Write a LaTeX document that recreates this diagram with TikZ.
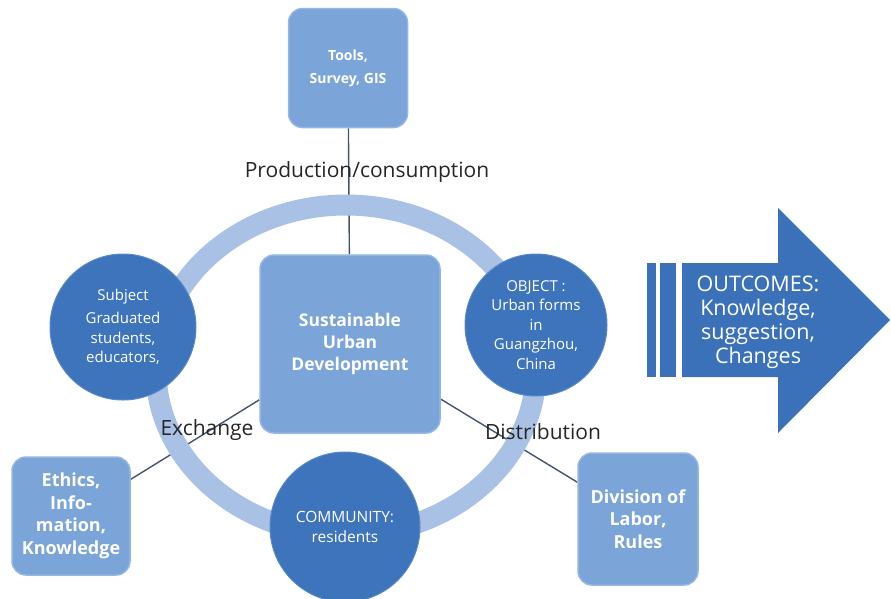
\documentclass[tikz,border=0pt]{standalone}
\usepackage{fontspec}
\setmainfont{Open Sans}
\usetikzlibrary{backgrounds}

\definecolor{boxblue}{HTML}{7BA4D9}
\definecolor{discblue}{HTML}{3D74BC}
\definecolor{ringblue}{HTML}{A9C1E4}
\definecolor{arrowblue}{HTML}{3B71B9}
\definecolor{linkgray}{HTML}{46536E}

\tikzset{
	square/.style={rounded corners=14pt, fill=boxblue, draw=boxblue!80!white,
		line width=1.5pt, minimum width=119pt, minimum height=119pt,
		text=white, align=center, font=\bfseries\fontsize{18}{22.5}\selectfont},
	disc/.style={circle, fill=discblue, draw=discblue!85!white, line width=1pt,
		minimum size=146pt, inner sep=0pt, text=white, align=center,
		font=\fontsize{15}{19.5}\selectfont},
	link/.style={draw=linkgray, line width=1.4pt},
	tag/.style={text=black!85, font=\fontsize{21}{22}\selectfont}
}

\begin{document}
\begin{tikzpicture}[x=1pt,y=-1pt]
	\useasboundingbox (0,0) rectangle (891,598);

	% The centre and the tool box above it
	\node [square, minimum width=180pt, minimum height=178pt,
		font=\bfseries\fontsize{17.5}{22}\selectfont] (sud) at (350,344)
		{Sustainable\\Urban\\Development};
	\node [square, font=\bfseries\fontsize{14}{23}\selectfont] (tools) at (348,68)
		{Tools,\\Survey, GIS};

	% The three circles on the ring
	\node [disc] (subject) at (123,327)
		{Subject\\[4pt]Graduated\\students,\\educators,};
	\node [disc, minimum size=142pt] (object) at (536,325)
		{OBJECT :\\Urban forms\\in\\Guangzhou,\\China};
	\node [disc, minimum size=150pt, font=\fontsize{15.5}{20}\selectfont] (community)
		at (345,527) {COMMUNITY:\\residents};

	% The two corner boxes
	\node [square, minimum width=118pt, minimum height=118pt] (ethics) at (71,516)
		{Ethics,\\Info-\\mation,\\Knowledge};
	\node [square, minimum width=120pt, minimum height=132pt] (division) at (638,519)
		{Division of\\Labor,\\Rules};

	% Links and ring go behind everything
	\begin{scope}[on background layer]
		\draw [link] (tools) -- (sud);
		\draw [link] (sud) -- (ethics);
		\draw [link] (sud) -- (division);
		\draw [ringblue, line width=21pt] (346,370) ellipse [x radius=190, y radius=165];
	\end{scope}

	% Labels of the links
	\node [tag] (prod) at (367,172) {Production/consumption};
	\node [tag] (exch) at (207,430) {Exchange};
	\node [tag] (dist) at (543,432) {Distribution};

	% The outcome arrow with its two bars
	\fill [arrowblue] (647,263) rectangle (656,377);
	\fill [arrowblue] (660,263) rectangle (676,377);
	\fill [arrowblue] (682,263) -- (778,263) -- (778,208) -- (890,320)
		-- (778,433) -- (778,377) -- (682,377) -- cycle;
	\node [text=white, align=center, font=\fontsize{21.5}{24}\selectfont] (outcomes)
		at (758,322) {OUTCOMES:\\Knowledge,\\suggestion,\\Changes};
\end{tikzpicture}
\end{document}
